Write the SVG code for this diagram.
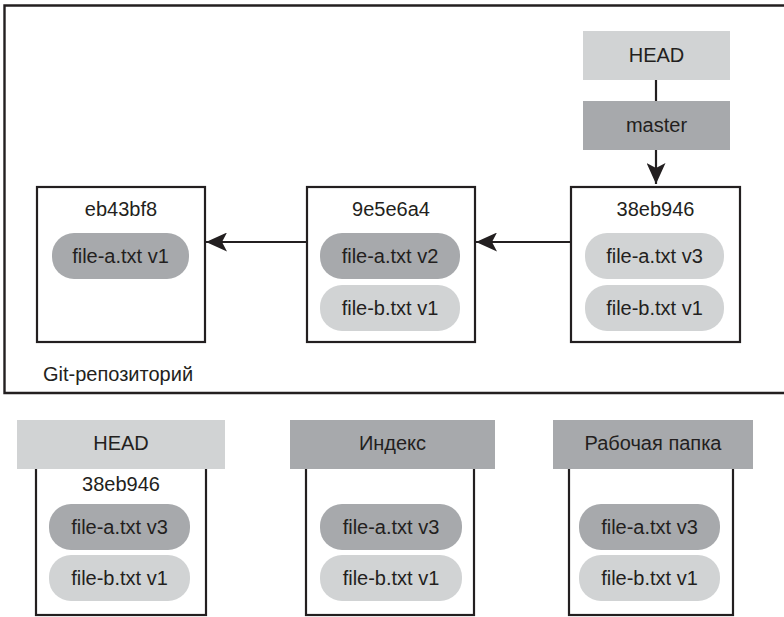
<svg xmlns="http://www.w3.org/2000/svg" width="784" height="617" viewBox="0 0 784 617">
<style>
  text { font-family: "Liberation Sans", Arial, sans-serif; font-size: 20px; fill: #231f20; text-anchor: middle; }
  .box { fill: #ffffff; stroke: #231f20; stroke-width: 2.2; }
  .frame { fill: none; stroke: #231f20; stroke-width: 2.4; }
  .dark { fill: #a7a9ac; }
  .light { fill: #d1d3d4; }
  .conn { stroke: #231f20; stroke-width: 2.2; fill: none; }
</style>
<defs>
  <marker id="arr" markerUnits="userSpaceOnUse" viewBox="0 0 21 19" markerWidth="21" markerHeight="19" refX="21" refY="9.5" orient="auto">
    <path d="M0,0 L21,9.5 L0,19 L5,9.5 Z" fill="#231f20"/>
  </marker>
</defs>
<rect x="0" y="0" width="784" height="617" fill="#ffffff"/>
<g id="repo">
  <path class="frame" d="M790,5.5 L4.5,5.5 L4.5,393 L790,393"/>
  <text x="43" y="381" style="text-anchor:start">Git-репозиторий</text>
</g>
<g id="head-ref">
  <rect class="light" x="583" y="31" width="147" height="49"/>
  <text x="656.5" y="62">HEAD</text>
</g>
<g id="master">
  <rect class="dark" x="583" y="101" width="147" height="49"/>
  <text x="656.5" y="132">master</text>
</g>
<g id="commit-eb43bf8">
  <rect class="box" x="37" y="187" width="168" height="155"/>
  <text x="121" y="216">eb43bf8</text>
  <rect class="dark" x="52" y="233" width="137" height="46" rx="22"/>
  <text x="120.5" y="263">file-a.txt v1</text>
</g>
<g id="commit-9e5e6a4">
  <rect class="box" x="307" y="187" width="168" height="155"/>
  <text x="391" y="216">9e5e6a4</text>
  <rect class="dark" x="320" y="233" width="140" height="46" rx="22"/>
  <text x="390" y="263">file-a.txt v2</text>
  <rect class="light" x="320" y="285" width="140" height="46" rx="22"/>
  <text x="390" y="315">file-b.txt v1</text>
</g>
<g id="commit-38eb946">
  <rect class="box" x="571" y="187" width="169" height="155"/>
  <text x="655.5" y="216">38eb946</text>
  <rect class="light" x="585" y="233" width="139" height="46" rx="22"/>
  <text x="654.5" y="263">file-a.txt v3</text>
  <rect class="light" x="585" y="285" width="139" height="46" rx="22"/>
  <text x="654.5" y="315">file-b.txt v1</text>
</g>
<g id="tree-head">
  <rect class="box" x="36" y="460" width="170" height="155"/>
  <rect class="light" x="17" y="420" width="208" height="49"/>
  <text x="121" y="450">HEAD</text>
  <text x="121" y="491">38eb946</text>
  <rect class="dark" x="49" y="504" width="141" height="46" rx="22"/>
  <text x="119.5" y="534">file-a.txt v3</text>
  <rect class="light" x="49" y="555" width="141" height="46" rx="22"/>
  <text x="119.5" y="585">file-b.txt v1</text>
</g>
<g id="tree-index">
  <rect class="box" x="306" y="460" width="168" height="155"/>
  <rect class="dark" x="290" y="420" width="205" height="49"/>
  <text x="392.5" y="450">Индекс</text>
  <rect class="dark" x="320" y="504" width="142" height="46" rx="22"/>
  <text x="391" y="534">file-a.txt v3</text>
  <rect class="light" x="320" y="555" width="142" height="46" rx="22"/>
  <text x="391" y="585">file-b.txt v1</text>
</g>
<g id="tree-workdir">
  <rect class="box" x="569" y="460" width="164" height="155"/>
  <rect class="dark" x="553" y="420" width="200" height="49"/>
  <text x="653" y="450">Рабочая папка</text>
  <rect class="dark" x="579" y="504" width="141" height="46" rx="22"/>
  <text x="649.5" y="534">file-a.txt v3</text>
  <rect class="light" x="579" y="555" width="141" height="46" rx="22"/>
  <text x="649.5" y="585">file-b.txt v1</text>
</g>
<g id="connectors">
  <line class="conn" x1="656" y1="80" x2="656" y2="101"/>
  <line class="conn" x1="656" y1="150" x2="656" y2="184" marker-end="url(#arr)"/>
  <line class="conn" x1="307" y1="242" x2="206" y2="242" marker-end="url(#arr)"/>
  <line class="conn" x1="571" y1="242" x2="476" y2="242" marker-end="url(#arr)"/>
</g>
</svg>
